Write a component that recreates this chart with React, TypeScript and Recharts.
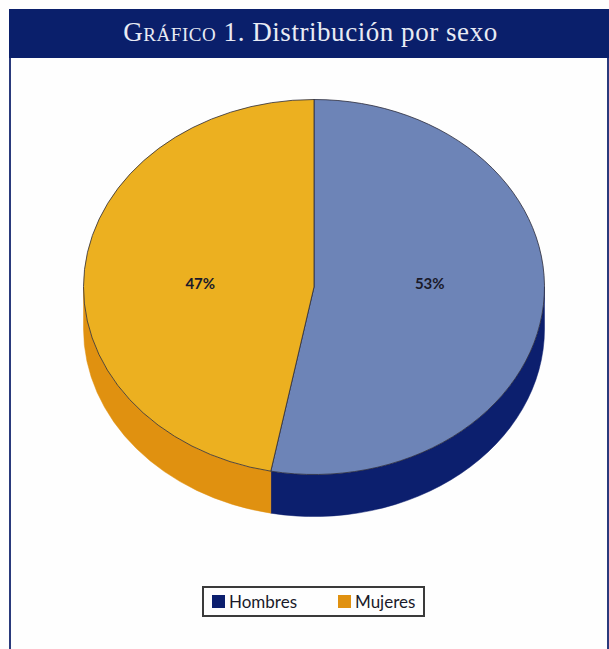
import { PieChart, Pie, Cell, Legend } from 'recharts';

const categories = ['Hombres', 'Mujeres'];
const shares = [53, 47];
const topColors = ['#6d84b7', '#ecb020'];
const sideColors = ['#0c1f6e', '#e09110'];

const rows = categories.map((name, i) => ({ name, value: shares[i] }));

const SQUASH = 187.5 / 230.5;
const DEPTH = 42;
const RAD = Math.PI / 180;

function point(cx: number, cy: number, r: number, deg: number) {
  return [cx + r * Math.cos(deg * RAD), cy - r * SQUASH * Math.sin(deg * RAD)];
}

// Recharts hands over a circular sector, flatten it into an ellipse
function TopSlice({ cx, cy, outerRadius, startAngle, endAngle, fill }: any) {
  const [x1, y1] = point(cx, cy, outerRadius, startAngle);
  const [x2, y2] = point(cx, cy, outerRadius, endAngle);
  const large = Math.abs(startAngle - endAngle) > 180 ? 1 : 0;
  const d = `M${cx},${cy} L${x1},${y1} A${outerRadius},${outerRadius * SQUASH} 0 ${large} 1 ${x2},${y2} Z`;
  return <path d={d} fill={fill} stroke="#2b2b3a" strokeWidth={0.8} />;
}

// side wall, only the part below the horizontal axis shows
function SideSlice({ cx, cy, outerRadius, startAngle, endAngle, fill }: any) {
  const from = Math.min(startAngle, 0);
  const to = Math.max(endAngle, -180);
  const [x1, y1] = point(cx, cy, outerRadius, from);
  const [x2, y2] = point(cx, cy, outerRadius, to);
  const rx = outerRadius;
  const ry = outerRadius * SQUASH;
  const d = `M${x1},${y1} A${rx},${ry} 0 0 1 ${x2},${y2} L${x2},${y2 + DEPTH} A${rx},${ry} 0 0 0 ${x1},${y1 + DEPTH} Z`;
  return <path d={d} fill={fill} stroke={fill} strokeWidth={0.5} />;
}

function PercentLabel({ cx, cy, midAngle, outerRadius, value }: any) {
  const x = cx + outerRadius * 0.5 * Math.cos(midAngle * RAD) + 1;
  return (
    <text x={x} y={cy - 4} textAnchor="middle" dominantBaseline="central" fontFamily="Lato" fontSize={15} fontWeight={700} fill="#1a1a2a">
      {value}%
    </text>
  );
}

function LegendBox({ payload }: any) {
  // the top faces stay out of the legend, only the darker side colours are listed
  const items = (payload || []).filter((p: any) => sideColors.includes(p.color));
  return (
    <div
      style={{
        boxSizing: 'border-box',
        width: 223,
        height: 31,
        border: '2px solid #3a3a3a',
        paddingLeft: 8,
        display: 'flex',
        alignItems: 'center',
        fontFamily: 'Lato',
        fontSize: 17,
        color: '#1a1a2a',
      }}
    >
      {items.map((p: any, i: number) => (
        <span key={p.value} style={{ display: 'flex', alignItems: 'center', width: i === 0 ? 126 : undefined }}>
          <span style={{ width: 13, height: 13, background: p.color, marginRight: 4 }} />
          {p.value}
        </span>
      ))}
    </div>
  );
}

export default function App() {
  return (
    <div style={{ position: 'absolute', left: 0, top: 0, width: 609, height: 649, background: '#fefefe', overflow: 'hidden' }}>
      <div
        style={{
          position: 'absolute',
          left: 9,
          top: 9,
          width: 600,
          height: 49,
          boxSizing: 'border-box',
          paddingLeft: 3,
          background: '#0a1f6b',
          color: '#e8ebf4',
          fontFamily: 'Liberation Serif',
          fontSize: 27,
          letterSpacing: 0.55,
          lineHeight: '47px',
          textAlign: 'center',
          fontVariant: 'small-caps',
        }}
      >
        Gráfico <span style={{ fontVariant: 'normal' }}>1. Distribución por sexo</span>
      </div>
      <div style={{ position: 'absolute', left: 9, top: 58, width: 2, height: 591, background: '#2a3a7c' }} />
      <div style={{ position: 'absolute', left: 607, top: 58, width: 2, height: 591, background: '#2a3a7c' }} />
      <PieChart width={609} height={649} margin={{ top: 0, right: 0, bottom: 0, left: 0 }} style={{ position: 'absolute', left: 0, top: 0 }}>
        <Pie
          data={rows}
          dataKey="value"
          nameKey="name"
          cx={314}
          cy={287}
          outerRadius={230.5}
          startAngle={90}
          endAngle={-270}
          shape={SideSlice}
          isAnimationActive={false}
        >
          {rows.map((r, i) => (
            <Cell key={r.name} fill={sideColors[i]} />
          ))}
        </Pie>
        <Pie
          data={rows}
          dataKey="value"
          nameKey="name"
          cx={314}
          cy={287}
          outerRadius={230.5}
          startAngle={90}
          endAngle={-270}
          shape={TopSlice}
          label={PercentLabel}
          labelLine={false}
          legendType="none"
          isAnimationActive={false}
        >
          {rows.map((r, i) => (
            <Cell key={r.name} fill={topColors[i]} />
          ))}
        </Pie>
        <Legend
          content={LegendBox}
          wrapperStyle={{ position: 'absolute', left: 202, top: 586, width: 223, height: 31 }}
        />
      </PieChart>
    </div>
  );
}
